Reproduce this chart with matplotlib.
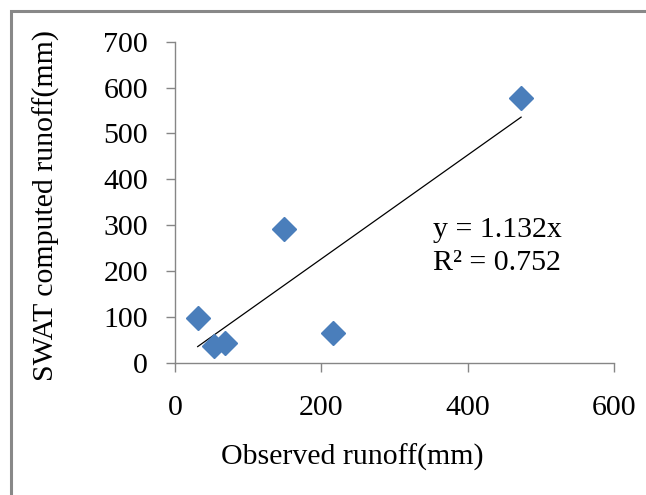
from matplotlib import pyplot as plt
from matplotlib.patches import Rectangle
import numpy as np

plt.rcParams['font.family'] = ['Liberation Serif', 'DejaVu Serif']

# observed vs SWAT computed runoff (mm)
observed = [31, 53, 69, 149, 216, 473]
computed = [98, 36, 42, 291, 65, 578]
slope = 1.132
r2 = 0.752

fig = plt.figure(figsize=(6.46, 4.95), dpi=100)
ax = fig.add_axes([0.2709, 0.2673, 0.6796, 0.6485])

# trendline through origin, spanning the observed range
xs = np.array([min(observed), max(observed)])
ax.plot(xs, slope * xs, '-', color='black', lw=0.9, zorder=2)
ax.plot(observed, computed, 'D', color='#4a7ebb', ms=12, mec='#4a7ebb', zorder=3)

ax.set_xlim(0, 600)
ax.set_ylim(0, 700)
ax.set_xticks([0, 200, 400, 600])
ax.set_yticks(np.arange(0, 701, 100))

for s in ['top', 'right']:
    ax.spines[s].set_visible(False)
for s in ['left', 'bottom']:
    ax.spines[s].set_color('#868686')
    ax.spines[s].set_linewidth(1.0)

ax.tick_params(axis='both', direction='out', length=6.5, width=1.0,
               color='#868686', labelsize=21.5)
ax.tick_params(axis='y', pad=13)
ax.tick_params(axis='x', pad=17)

ax.set_xlabel('Observed runoff(mm)', fontsize=21.5)
ax.set_ylabel('SWAT computed runoff(mm)', fontsize=21.5)
ax.xaxis.set_label_coords(0.405, -0.294)
ax.yaxis.set_label_coords(-0.292, 0.491)
ax.xaxis.label.set_va('center')
ax.yaxis.label.set_va('center')

ax.text(0.587, 0.413, 'y = %.3fx' % slope, transform=ax.transAxes,
        fontsize=21.5, ha='left', va='center')
ax.text(0.587, 0.311, 'R² = %.3f' % r2, transform=ax.transAxes,
        fontsize=21.5, ha='left', va='center')

# outer chart border (only left and top visible)
fig.patches.append(Rectangle((11 / 646, -0.1), 1.2, 1 - 11 / 495 + 0.1,
                             transform=fig.transFigure, fill=False,
                             edgecolor='#888888', lw=2.2))

fig.savefig('out.png', dpi=100)
